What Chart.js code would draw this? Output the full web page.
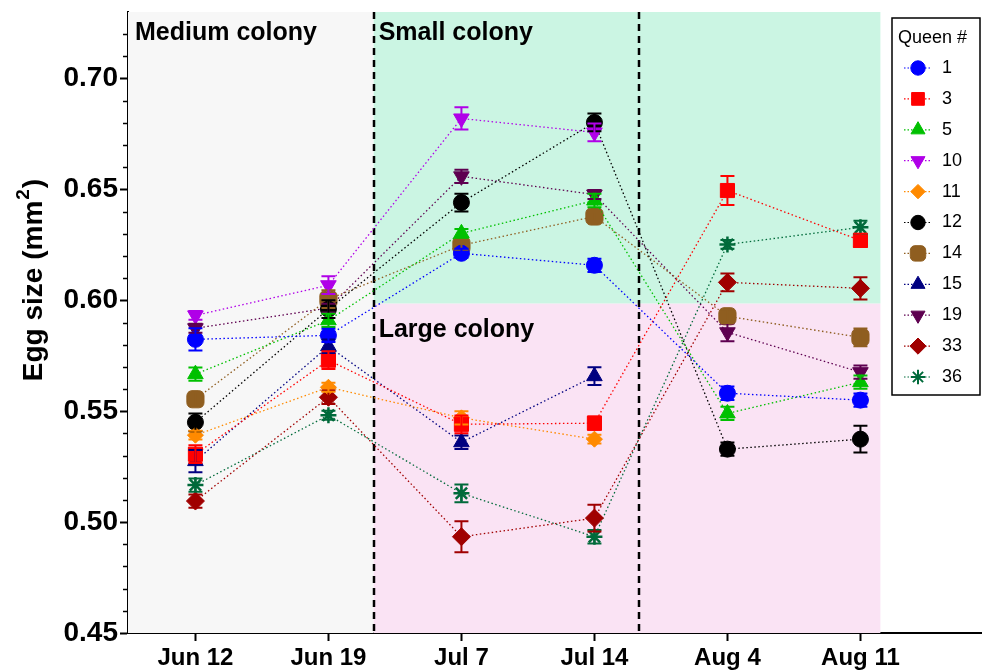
<!DOCTYPE html>
<html>
<head>
<meta charset="utf-8">
<script src="https://cdn.jsdelivr.net/npm/chart.js@4.4.0/dist/chart.umd.min.js"></script>
<style>
  html, body { margin: 0; padding: 0; background: #fff; overflow: hidden; }
  #wrap { width: 982px; height: 671px; position: relative; }
  canvas { display: block; }
</style>
</head>
<body>
<div id="wrap"><canvas id="chart"></canvas></div>
<script>
// sampling dates (x categories)
const dates = ['Jun 12', 'Jun 19', 'Jul 7', 'Jul 14', 'Aug 4', 'Aug 11'];
const yTicks = [0.45, 0.50, 0.55, 0.60, 0.65, 0.70];

// mean egg size per queen (mm^2), null = not sampled
const q1  = [0.5824, 0.5842, 0.6212, 0.6158, 0.5581, 0.5550];
const q3  = [0.5306, 0.5730, 0.5441, 0.5446, 0.6495, 0.6270];
const q5  = [0.5667, 0.5910, 0.6302, 0.6450, 0.5490, 0.5631];
const q10 = [0.5932, 0.6068, 0.6820, 0.6757, null, null];
const q11 = [0.5392, 0.5608, 0.5470, 0.5374, null, null];
const q12 = [0.5450, 0.5960, 0.6441, 0.6802, 0.5329, 0.5374];
const q14 = [0.5554, 0.6005, 0.6248, 0.6378, 0.5928, 0.5833];
const q15 = [0.5275, 0.5793, 0.5360, 0.5658, null, null];
const q19 = [0.5874, 0.5965, 0.6559, 0.6477, 0.5856, 0.5676];
const q33 = [0.5095, 0.5563, 0.4934, 0.5018, 0.6081, 0.6054];
const q36 = [0.5167, 0.5482, 0.5130, 0.4934, 0.6252, 0.6329];

// standard errors
const e1  = [0.005, 0.003, 0.002, 0.003, 0.003, 0.003];
const e3  = [0.004, 0.004, 0.004, 0.003, 0.0065, 0.003];
const e5  = [0.003, 0.003, 0.002, 0.003, 0.003, 0.003];
const e10 = [0.002, 0.004, 0.005, 0.004, null, null];
const e11 = [0.002, 0.002, 0.003, 0.002, null, null];
const e12 = [0.004, 0.004, 0.004, 0.004, 0.003, 0.006];
const e14 = [0.003, 0.004, 0.002, 0.002, 0.003, 0.004];
const e15 = [0.005, 0.003, 0.003, 0.004, null, null];
const e19 = [0.002, 0.002, 0.003, 0.002, 0.004, 0.003];
const e33 = [0.003, 0.003, 0.007, 0.006, 0.004, 0.005];
const e36 = [0.003, 0.002, 0.004, 0.003, 0.002, 0.003];

const queens = [
  { name: '1',  vals: q1,  err: e1,  color: '#0000ff', style: 'circle',      rot: 0,   r: 8 },
  { name: '3',  vals: q3,  err: e3,  color: '#ff0000', style: 'rect',        rot: 0,   r: 10 },
  { name: '5',  vals: q5,  err: e5,  color: '#00c000', style: 'triangle',    rot: 0,   r: 9 },
  { name: '10', vals: q10, err: e10, color: '#b000e8', style: 'triangle',    rot: 180, r: 9 },
  { name: '11', vals: q11, err: e11, color: '#ff8a00', style: 'rectRot',     rot: 0,   r: 8 },
  { name: '12', vals: q12, err: e12, color: '#000000', style: 'circle',      rot: 0,   r: 8 },
  { name: '14', vals: q14, err: e14, color: '#8f5e20', style: 'rectRounded', rot: 0,   r: 10 },
  { name: '15', vals: q15, err: e15, color: '#000080', style: 'triangle',    rot: 0,   r: 9 },
  { name: '19', vals: q19, err: e19, color: '#5e0050', style: 'triangle',    rot: 180, r: 9 },
  { name: '33', vals: q33, err: e33, color: '#a00000', style: 'rectRot',     rot: 0,   r: 9 },
  { name: '36', vals: q36, err: e36, color: '#006a3a', style: 'star',        rot: 0,   r: 8 }
];

// colony size periods
const splitA = 1.34, splitB = 3.335, shadeEnd = 5.15, smallLargeCut = 0.5985;

const FONT = '"Liberation Sans", Arial, sans-serif';

const backdrop = {
  id: 'backdrop',
  beforeDatasetsDraw(chart) {
    const { ctx, chartArea: a, scales: { x, y } } = chart;
    ctx.save();
    const xa = x.getPixelForValue(splitA), xe = x.getPixelForValue(shadeEnd);
    const yc = y.getPixelForValue(smallLargeCut);
    ctx.fillStyle = '#f7f7f7';
    ctx.fillRect(a.left, a.top, xa - a.left, a.bottom - a.top);
    ctx.fillStyle = '#cbf5e3';
    ctx.fillRect(xa, a.top, xe - xa, yc - a.top);
    ctx.fillStyle = '#fae3f4';
    ctx.fillRect(xa, yc, xe - xa, a.bottom - yc);

    ctx.strokeStyle = '#000';
    ctx.lineWidth = 2.5;
    ctx.setLineDash([7, 5]);
    [splitA, splitB].forEach(v => {
      const px = Math.round(x.getPixelForValue(v));
      ctx.beginPath();
      ctx.moveTo(px, a.top);
      ctx.lineTo(px, a.bottom);
      ctx.stroke();
    });
    ctx.setLineDash([]);

    ctx.fillStyle = '#000';
    ctx.font = 'bold 25px ' + FONT;
    ctx.textBaseline = 'middle';
    ctx.textAlign = 'left';
    ctx.fillText('Medium colony', a.left + 7, 33);
    ctx.fillText('Small colony', xa + 5, 33);
    ctx.fillText('Large colony', xa + 5, 330);
    ctx.restore();
  }
};

const errorBars = {
  id: 'errorBars',
  afterDatasetsDraw(chart) {
    const { ctx, scales: { x, y } } = chart;
    ctx.save();
    ctx.lineWidth = 2;
    for (let d = queens.length - 1; d >= 0; d--) {
      const q = queens[d];
      ctx.strokeStyle = q.color;
      q.vals.forEach((v, i) => {
        if (v === null || q.err[i] === null) return;
        const px = x.getPixelForValue(i);
        const top = y.getPixelForValue(v + q.err[i]);
        const bot = y.getPixelForValue(v - q.err[i]);
        ctx.beginPath();
        ctx.moveTo(px, top); ctx.lineTo(px, bot);
        ctx.moveTo(px - 7, top); ctx.lineTo(px + 7, top);
        ctx.moveTo(px - 7, bot); ctx.lineTo(px + 7, bot);
        ctx.stroke();
      });
    }
    ctx.restore();
  }
};

const extras = {
  id: 'extras',
  afterDraw(chart) {
    const { ctx, chartArea: a, scales: { y } } = chart;
    ctx.save();
    // minor y ticks
    ctx.strokeStyle = '#000';
    ctx.lineWidth = 1.5;
    for (let k = 46; k <= 72; k++) {
      if (k % 5 === 0) continue;
      const py = Math.round(y.getPixelForValue(k / 100)) + 0.5;
      ctx.beginPath();
      ctx.moveTo(a.left - 5, py);
      ctx.lineTo(a.left, py);
      ctx.stroke();
    }

    // y title with superscript
    ctx.translate(34, 281);
    ctx.rotate(-Math.PI / 2);
    ctx.fillStyle = '#000';
    ctx.textBaseline = 'middle';
    ctx.textAlign = 'left';
    const big = 'bold 28px ' + FONT, small = 'bold 19px ' + FONT;
    ctx.font = big;
    const p1 = 'Egg size (mm', p3 = ')';
    const w1 = ctx.measureText(p1).width, w3 = ctx.measureText(p3).width;
    ctx.font = small;
    const w2 = ctx.measureText('2').width;
    let sx = -(w1 + w2 + w3) / 2;
    ctx.font = big;
    ctx.fillText(p1, sx, 0);
    ctx.font = small;
    ctx.fillText('2', sx + w1 + 1, -10);
    ctx.font = big;
    ctx.fillText(p3, sx + w1 + w2 + 2, 0);
    ctx.setTransform(1, 0, 0, 1, 0, 0);

    // legend
    const lx = 892, ly = 18, lw = 88, lh = 377;
    ctx.fillStyle = '#fff';
    ctx.fillRect(lx, ly, lw, lh);
    ctx.strokeStyle = '#000';
    ctx.lineWidth = 1.5;
    ctx.strokeRect(lx, ly, lw, lh);
    ctx.fillStyle = '#000';
    ctx.font = '18px ' + FONT;
    ctx.textBaseline = 'middle';
    ctx.fillText('Queen #', lx + 6, ly + 20);
    queens.forEach((q, i) => {
      const cy = ly + 50 + i * 30.9;
      ctx.strokeStyle = q.color;
      ctx.lineWidth = 1.2;
      ctx.setLineDash([1.5, 2]);
      ctx.beginPath();
      ctx.moveTo(lx + 12, cy); ctx.lineTo(lx + 40, cy);
      ctx.stroke();
      ctx.setLineDash([]);
      ctx.fillStyle = q.color;
      ctx.strokeStyle = q.color;
      ctx.lineWidth = q.style === 'star' ? 2 : 1;
      Chart.helpers.drawPoint(ctx, { pointStyle: q.style, rotation: q.rot, radius: q.r * 0.9, borderWidth: ctx.lineWidth }, lx + 26, cy);
      ctx.fillStyle = '#000';
      ctx.fillText(q.name, lx + 50, cy);
    });
    ctx.restore();
  }
};

const datasets = queens.map(q => ({
  label: q.name,
  data: q.vals.map((v, i) => ({ x: i, y: v })),
  borderColor: q.color,
  backgroundColor: q.color,
  borderWidth: 1.3,
  borderDash: [1.5, 2.5],
  pointStyle: q.style,
  pointRotation: q.rot,
  pointRadius: q.r,
  pointBorderWidth: q.style === 'star' ? 2.5 : 1,
  pointBorderColor: q.color,
  pointBackgroundColor: q.color,
  spanGaps: false,
  tension: 0
}));

new Chart(document.getElementById('chart'), {
  type: 'line',
  data: { datasets },
  options: {
    responsive: true,
    maintainAspectRatio: false,
    animation: false,
    layout: { autoPadding: false, padding: { top: 12, right: 0, bottom: 0, left: 0 } },
    plugins: { legend: { display: false }, tooltip: { enabled: false } },
    scales: {
      x: {
        type: 'linear',
        min: -0.507,
        max: 5.914,
        afterBuildTicks: s => { s.ticks = dates.map((d, i) => ({ value: i })); },
        afterFit: s => { s.height = 38; s.paddingLeft = 0; s.paddingRight = 0; },
        grid: { drawOnChartArea: false, tickLength: 8, tickColor: '#000', tickWidth: 2 },
        border: { color: '#000', width: 2 },
        ticks: {
          callback: v => dates[v],
          color: '#000',
          font: { family: FONT, size: 24, weight: 'bold' },
          padding: 3,
          maxRotation: 0,
          autoSkip: false
        }
      },
      y: {
        min: 0.45,
        max: 0.73,
        afterBuildTicks: s => { s.ticks = yTicks.map(v => ({ value: v })); },
        afterFit: s => { s.width = 128; s.paddingTop = 0; s.paddingBottom = 0; },
        grid: { drawOnChartArea: false, tickLength: 8, tickColor: '#000', tickWidth: 2 },
        border: { color: '#000', width: 2 },
        ticks: {
          callback: v => v.toFixed(2),
          color: '#000',
          font: { family: FONT, size: 28, weight: 'bold' },
          padding: 2
        }
      }
    }
  },
  plugins: [backdrop, errorBars, extras]
});
</script>
</body>
</html>
